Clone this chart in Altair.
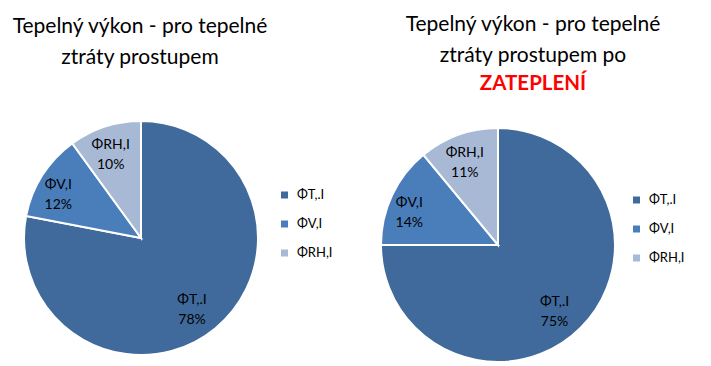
import altair as alt
import pandas as pd

categories = ["ΦT,.I", "ΦV,I", "ΦRH,I"]
before_pct = [78, 12, 10]
after_pct = [75, 14, 11]
colors = ["#3F6A9B", "#4A7EBB", "#A8B9D6"]

FONT = "Lato"


def make_df(vals):
    return pd.DataFrame({
        "cat": categories,
        "val": vals,
        "idx": list(range(len(categories))),
    })


def panel(vals, title, w, h, legx, legy):
    df = make_df(vals)
    total = sum(vals)
    tscale = alt.Scale(domain=[0, total])
    base = alt.Chart(df)
    arc = base.mark_arc(outerRadius=117, stroke="white", strokeWidth=2).encode(
        theta=alt.Theta("val:Q", stack=True, scale=tscale),
        order=alt.Order("idx:Q"),
        color=alt.Color(
            "cat:N",
            sort=categories,
            scale=alt.Scale(domain=categories, range=colors),
            legend=alt.Legend(
                title=None,
                orient="none",
                legendX=legx,
                legendY=legy,
                symbolType="square",
                symbolSize=49,
                symbolStrokeWidth=0,
                labelFont=FONT,
                labelFontSize=13,
                labelColor="#000000",
                rowPadding=15,
                labelOffset=6,
            ),
        ),
    )
    text = base.transform_window(
        cum="sum(val)", sort=[alt.SortField("idx")]
    ).transform_calculate(
        mid="datum.cum - datum.val / 2",
        label="datum.cat + '\\n' + datum.val + '%'",
        r="datum.val > 50 ? 80 : 98",
    ).mark_text(font=FONT, fontSize=14, lineBreak="\n", lineHeight=20, color="#000000").encode(
        theta=alt.Theta("mid:Q", stack=None, scale=tscale),
        radius=alt.Radius("r:Q", scale=None),
        text="label:N",
    )
    return alt.layer(arc, text).properties(width=w, height=h, title=title)


t1 = alt.TitleParams(
    text=["Tepelný výkon - pro tepelné", "ztráty prostupem"],
    font=FONT, fontSize=21, fontWeight="normal", color="#000000",
    lineHeight=31, anchor="middle", frame="group", dx=-1, offset=45.5,
)
t2 = alt.TitleParams(
    text=["Tepelný výkon - pro tepelné", "ztráty prostupem po"],
    subtitle="ZATEPLENÍ",
    subtitleFont=FONT, subtitleFontSize=20.5, subtitleFontWeight="bold",
    subtitleColor="#FF0000", subtitlePadding=8,
    font=FONT, fontSize=21, fontWeight="normal", color="#000000",
    lineHeight=31, anchor="middle", frame="group", dx=35, offset=18.5,
)

left = panel(before_pct, t1, 266, 250, 270, 75.5)
right = panel(after_pct, t2, 240, 264, 252, 80.5)

chart = alt.hconcat(left, right, spacing=44).resolve_scale(
    color="independent", theta="independent"
).configure(
    padding={"top": 6, "left": 0, "right": 0, "bottom": 0}
).configure_view(stroke=None).properties(background="white")

chart.save("out.html", embed_options={"renderer": "svg", "actions": False})
